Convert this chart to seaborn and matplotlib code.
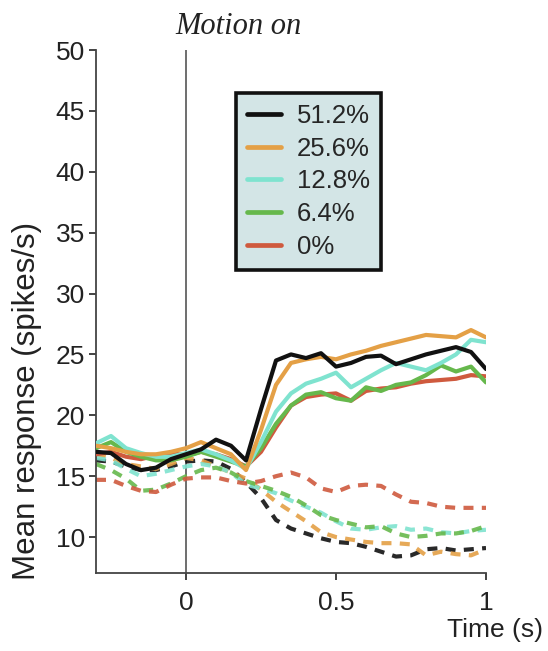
import numpy as np
import pandas as pd
import matplotlib
matplotlib.use("Agg")
import matplotlib.pyplot as plt
from matplotlib.lines import Line2D
import seaborn as sns

# Time axis (s), motion onset at 0
time_s = [-0.30, -0.25, -0.20, -0.15, -0.10, -0.05, 0.00, 0.05, 0.10, 0.15,
          0.20, 0.25, 0.30, 0.35, 0.40, 0.45, 0.50, 0.55, 0.60, 0.65,
          0.70, 0.75, 0.80, 0.85, 0.90, 0.95, 1.00]

coherence_labels = ["51.2%", "25.6%", "12.8%", "6.4%", "0%"]
coherence_colors = ["#111111", "#e4a046", "#7fe3cf", "#66b84c", "#cf5a3e"]

# Mean response (spikes/s), choices into the response field (solid)
pref_512 = [17.0, 16.9, 16.0, 15.5, 15.7, 16.4, 16.8, 17.2, 18.0, 17.5, 16.3, 20.5, 24.5, 25.0,
            24.7, 25.1, 24.0, 24.3, 24.8, 24.9, 24.2, 24.6, 25.0, 25.3, 25.6, 25.2, 23.8]
pref_256 = [17.5, 17.3, 17.0, 16.8, 16.8, 17.0, 17.3, 17.8, 17.3, 16.8, 15.5, 18.8, 22.5, 24.3,
            24.6, 24.8, 24.6, 25.0, 25.3, 25.7, 26.0, 26.3, 26.6, 26.5, 26.4, 27.0, 26.4]
pref_128 = [17.7, 18.3, 17.3, 16.9, 16.6, 16.6, 16.9, 17.2, 16.8, 16.3, 15.6, 17.8, 20.3, 21.8,
            22.6, 23.0, 23.5, 22.3, 23.0, 23.7, 24.3, 24.0, 23.7, 24.3, 25.0, 26.2, 26.0]
pref_64 = [17.3, 17.8, 17.0, 16.6, 16.3, 16.3, 16.6, 17.0, 16.6, 16.2, 15.8, 17.3, 19.3, 20.8,
           21.7, 21.9, 21.4, 21.2, 22.3, 22.0, 22.5, 22.7, 23.3, 24.1, 23.6, 24.0, 22.7]
pref_0 = [16.8, 17.0, 16.6, 16.4, 16.7, 16.9, 16.7, 17.0, 16.8, 16.4, 15.8, 17.0, 19.0, 20.8,
          21.5, 21.7, 21.8, 21.2, 22.0, 22.2, 22.3, 22.6, 22.8, 22.9, 23.0, 23.3, 23.2]

# Mean response (spikes/s), choices away from the response field (dashed)
null_512 = [16.3, 16.2, 15.8, 15.5, 15.5, 15.8, 16.2, 16.3, 16.2, 15.6, 14.5, 13.2, 11.4, 10.7,
            10.3, 9.9, 9.6, 9.5, 9.2, 8.8, 8.4, 8.5, 9.0, 9.1, 8.9, 9.0, 9.1]
null_256 = [16.8, 16.5, 16.0, 15.8, 15.6, 16.0, 16.5, 16.3, 15.8, 15.3, 14.8, 13.9, 12.9, 12.1,
            11.3, 10.4, 10.0, 9.8, 9.6, 9.5, 9.5, 9.4, 8.5, 8.8, 8.6, 8.5, 9.0]
null_128 = [16.5, 16.3, 15.6, 15.0, 15.2, 15.5, 15.8, 16.0, 15.8, 15.3, 14.3, 14.0, 13.6, 13.0,
            12.5, 12.0, 11.3, 10.7, 10.6, 10.8, 10.9, 10.6, 10.7, 10.4, 10.3, 10.5, 10.6]
null_64 = [16.0, 15.5, 14.8, 13.8, 13.9, 14.4, 15.0, 15.5, 15.7, 15.3, 14.6, 14.2, 13.8, 13.3,
           12.6, 11.8, 11.4, 11.1, 10.8, 10.9, 10.3, 10.0, 10.1, 10.3, 10.3, 10.5, 10.9]
null_0 = [14.7, 14.7, 14.2, 13.8, 13.7, 14.3, 14.8, 14.9, 14.9, 14.6, 14.4, 14.6, 15.0, 15.3,
          14.9, 14.0, 13.7, 14.2, 14.3, 14.2, 13.5, 12.9, 12.8, 12.5, 12.4, 12.4, 12.4]

pref_series = [pref_512, pref_256, pref_128, pref_64, pref_0]
null_series = [null_512, null_256, null_128, null_64, null_0]

x_ticks = [0, 0.5, 1]
x_tick_labels = ["0", "0.5", "1"]
y_ticks = [10, 15, 20, 25, 30, 35, 40, 45, 50]

sns.set_style("ticks")
plt.rcParams["font.family"] = ["Liberation Sans", "DejaVu Sans"]

W, H = 548, 651
fig = plt.figure(figsize=(W / 100, H / 100), dpi=100)
ax = fig.add_axes([96 / W, 1 - 573 / H, (486 - 96) / W, (573 - 50) / H])

ax.axvline(0, color="#555555", lw=1.2, zorder=1)

# dashed (null) first so the solid traces sit on top
for vals, col in zip(null_series, coherence_colors):
    sns.lineplot(x=time_s, y=vals, ax=ax, color=col, lw=3.0, alpha=0.9,
                 linestyle=(0, (2.4, 2.0)), legend=False, zorder=2)
for vals, col in zip(pref_series[::-1], coherence_colors[::-1]):
    sns.lineplot(x=time_s, y=vals, ax=ax, color=col, lw=3.0, legend=False, zorder=3)

ax.set_xlim(-0.3, 1.0)
ax.set_ylim(7.05, 50)
ax.set_xticks(x_ticks)
ax.set_xticklabels(x_tick_labels)
ax.set_yticks(y_ticks)
ax.tick_params(axis="both", labelsize=19, colors="#222222", length=5, width=1.2, pad=3)
ax.tick_params(axis="x", pad=8)
for side in ("top", "right"):
    ax.spines[side].set_visible(False)
for side in ("left", "bottom"):
    ax.spines[side].set_color("#444444")
    ax.spines[side].set_linewidth(1.3)
ax.set_xlabel("")
ax.set_ylabel("")

handles = [Line2D([0], [0], color=c, lw=3.4) for c in coherence_colors]
leg = ax.legend(handles, coherence_labels, loc="upper left",
                bbox_to_anchor=((236 - 96) / (486 - 96), 1 - (93 - 50) / (573 - 50)),
                fontsize=18.5, frameon=True, fancybox=False, handlelength=1.35,
                handletextpad=0.6, labelspacing=0.34, borderpad=0.42,
                borderaxespad=0.0)
frame = leg.get_frame()
frame.set_facecolor("#d3e5e6")
frame.set_edgecolor("#111111")
frame.set_linewidth(2.6)
frame.set_alpha(1.0)

fig.text(238 / W, 1 - 27 / H, "Motion on", ha="center", va="center",
         fontsize=22, style="italic", family=["Liberation Serif", "DejaVu Serif"],
         color="#222222")
fig.text(543 / W, 1 - 630 / H, "Time (s)", ha="right", va="center",
         fontsize=19, color="#222222")
fig.text(27 / W, 1 - 401 / H, "Mean response (spikes/s)", ha="center", va="center",
         rotation=90, fontsize=22.5, color="#222222")

fig.savefig("out.png", dpi=100, facecolor="white")
